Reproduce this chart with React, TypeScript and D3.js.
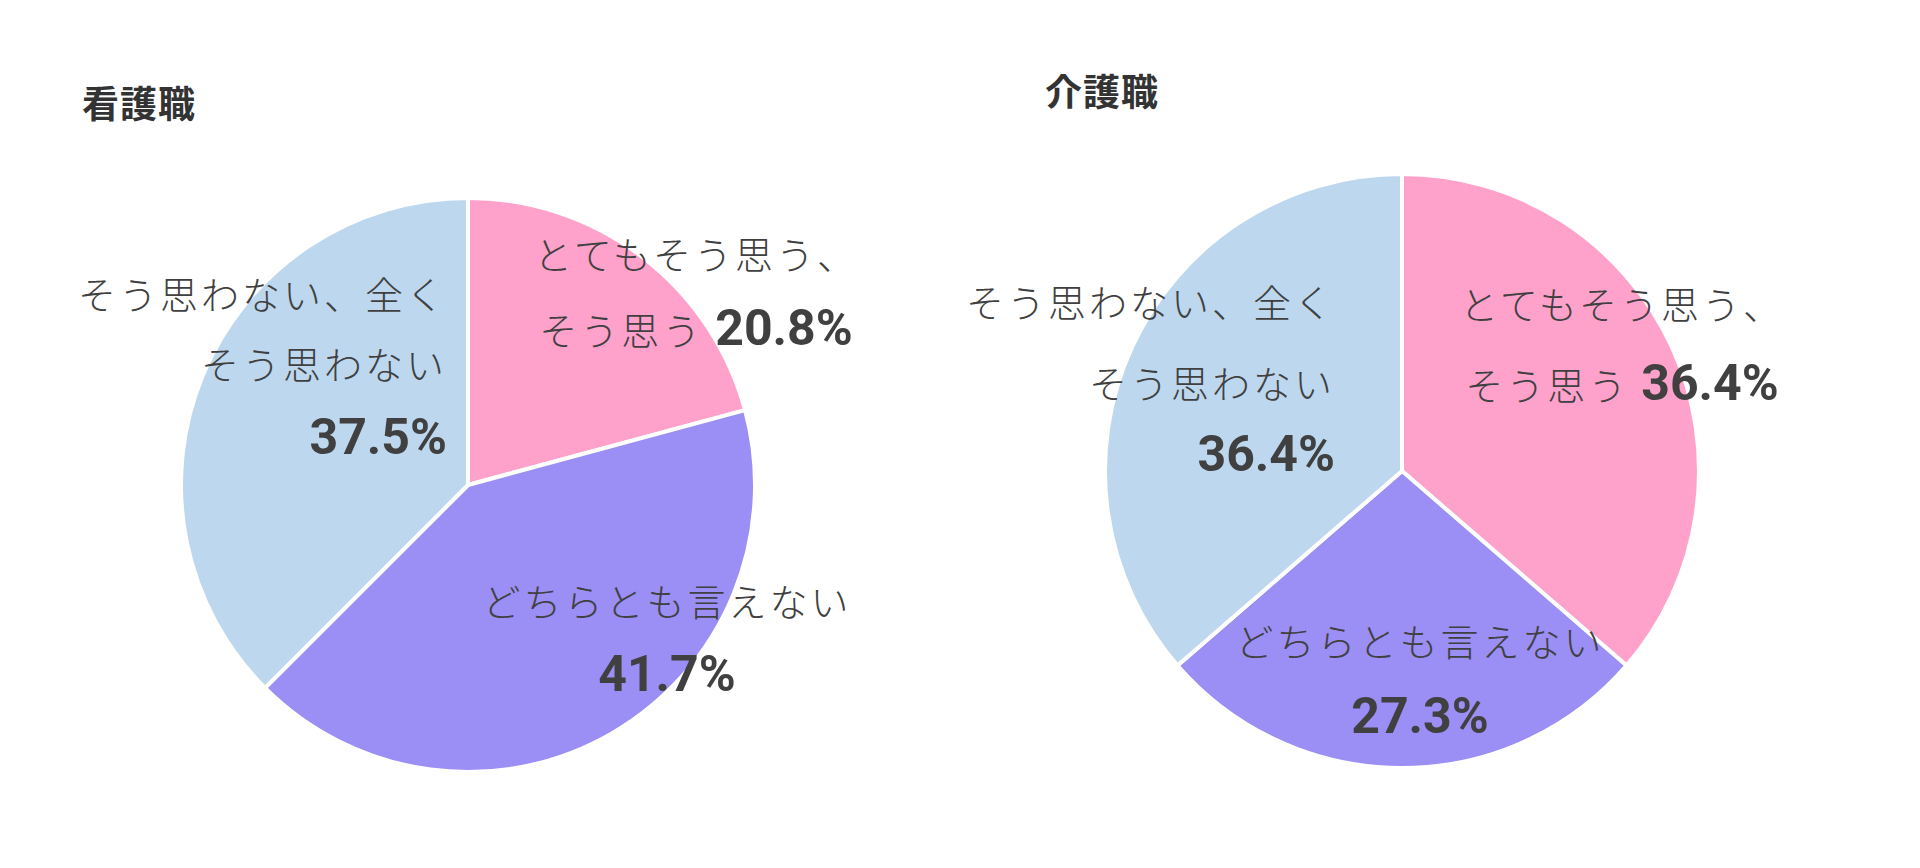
import React from "react";
import * as d3 from "d3";

// ---- Data ----
const categories = ["とてもそう思う、そう思う", "どちらとも言えない", "そう思わない、全く そう思わない"];
const nurseValues = [20.8, 41.7, 37.5];
const careValues = [36.4, 27.3, 36.4];
const chartTitles = ["看護職", "介護職"];
// label text lines per category (percentage is appended inline or added as own line)
const labelLines = [
  ["とてもそう思う、", "そう思う"],
  ["どちらとも言えない"],
  ["そう思わない、全く", "そう思わない"],
];
const pctInline = [true, false, false];
const colors = ["#FFA2CB", "#9B8EF4", "#BDD7EE"];

// ---- Layout ----
type LabelLayout = { anchor: "start" | "middle" | "end"; dx: number; dys: number[] };
const pies = [
  {
    title: chartTitles[0],
    values: nurseValues,
    cx: 468, cy: 485, r: 287,
    titleX: 82, titleY: 102,
    labels: [
      { anchor: "middle", dx: 228, dys: [-233, -157] },
      { anchor: "middle", dx: 199, dys: [114, 189] },
      { anchor: "end", dx: -21, dys: [-193, -123, -48] },
    ] as LabelLayout[],
  },
  {
    title: chartTitles[1],
    values: careValues,
    cx: 1402, cy: 471, r: 297,
    titleX: 1045, titleY: 90,
    labels: [
      { anchor: "middle", dx: 220, dys: [-169, -88] },
      { anchor: "middle", dx: 18, dys: [168, 245] },
      { anchor: "end", dx: -67, dys: [-171, -90, -17] },
    ] as LabelLayout[],
  },
];

const jpFont = "'Noto Sans CJK JP', 'Noto Sans', sans-serif";
const numFont = "Roboto, 'Liberation Sans', sans-serif";
const textColor = "#404040";

function Pie({ p }: { p: (typeof pies)[number] }) {
  const pieGen = d3.pie<number>().sort(null).value((d) => d).startAngle(0).endAngle(2 * Math.PI);
  const arcs = pieGen(p.values);
  const arcGen = d3.arc<d3.PieArcDatum<number>>().innerRadius(0).outerRadius(p.r);
  return (
    <g>
      <text
        x={p.titleX}
        y={p.titleY}
        dominantBaseline="central"
        fontFamily={jpFont}
        fontWeight={700}
        fontSize={37}
        letterSpacing={1}
        fill="#333333"
      >
        {p.title}
      </text>
      <g transform={`translate(${p.cx},${p.cy})`}>
        {arcs.map((a, i) => (
          <path key={i} d={arcGen(a) || ""} fill={colors[i]} stroke="#ffffff" strokeWidth={4} strokeLinejoin="round" />
        ))}
        {arcs.map((a, i) => {
          const lay = p.labels[i];
          const lines = labelLines[i];
          const pct = `${d3.format(".1f")(p.values[i])}%`;
          return (
            <g key={"l" + i} fill={textColor}>
              {lines.map((ln, j) => (
                <text
                  key={j}
                  x={lay.dx}
                  y={lay.dys[j]}
                  textAnchor={lay.anchor}
                  dominantBaseline="central"
                  fontFamily={jpFont}
                  fontWeight={300}
                  fontSize={38}
                  letterSpacing={3}
                >
                  {ln}
                  {pctInline[i] && j === lines.length - 1 ? (
                    <tspan fontFamily={numFont} fontWeight={700} fontSize={50} letterSpacing={0} dx={12}>
                      {pct}
                    </tspan>
                  ) : null}
                </text>
              ))}
              {!pctInline[i] ? (
                <text
                  x={lay.dx}
                  y={lay.dys[lines.length]}
                  textAnchor={lay.anchor}
                  dominantBaseline="central"
                  fontFamily={numFont}
                  fontWeight={700}
                  fontSize={50}
                >
                  {pct}
                </text>
              ) : null}
            </g>
          );
        })}
      </g>
    </g>
  );
}

export default function App() {
  return (
    <svg
      width={1920}
      height={868}
      viewBox="0 0 1920 868"
      style={{ position: "absolute", left: 0, top: 0, background: "#ffffff" }}
    >
      <rect x={0} y={0} width={1920} height={868} fill="#ffffff" />
      {pies.map((p, i) => (
        <Pie key={i} p={p} />
      ))}
    </svg>
  );
}
